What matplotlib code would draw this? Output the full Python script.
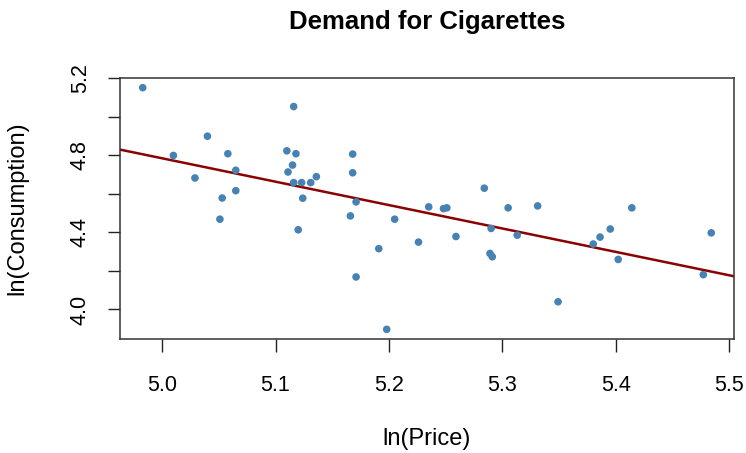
import numpy as np
import matplotlib
matplotlib.use("Agg")
import matplotlib.pyplot as plt

plt.rcParams['font.family'] = ['Liberation Sans', 'DejaVu Sans']

ln_price = [4.983, 5.010, 5.029, 5.040, 5.058, 5.065, 5.053, 5.065, 5.051, 5.116,
            5.110, 5.118, 5.115, 5.111, 5.116, 5.123, 5.131, 5.136, 5.124, 5.120,
            5.168, 5.168, 5.171, 5.166, 5.171, 5.191, 5.198, 5.205, 5.226, 5.235,
            5.248, 5.251, 5.259, 5.284, 5.290, 5.289, 5.291, 5.305, 5.313, 5.331,
            5.349, 5.380, 5.386, 5.395, 5.402, 5.414, 5.477, 5.484]
ln_cons = [5.152, 4.800, 4.683, 4.900, 4.809, 4.723, 4.579, 4.617, 4.469, 5.054,
           4.824, 4.809, 4.750, 4.714, 4.659, 4.659, 4.659, 4.690, 4.578, 4.414,
           4.807, 4.710, 4.559, 4.486, 4.169, 4.316, 3.897, 4.469, 4.350, 4.533,
           4.524, 4.528, 4.379, 4.630, 4.421, 4.291, 4.274, 4.528, 4.386, 4.538,
           4.040, 4.340, 4.376, 4.418, 4.260, 4.528, 4.181, 4.398]
x_ticks = [5.0, 5.1, 5.2, 5.3, 5.4, 5.5]
y_ticks = [4.0, 4.2, 4.4, 4.6, 4.8, 5.0, 5.2]
y_labels = ['4.0', '', '4.4', '', '4.8', '', '5.2']

x = np.array(ln_price)
y = np.array(ln_cons)

fig = plt.figure(figsize=(7.46, 4.53), dpi=100)
ax = fig.add_axes([120/746, 1-339/453, (734-120)/746, (339-78)/453])

ax.scatter(x, y, s=30, color='#4682B4', edgecolors='none', zorder=3)

xr = x.max() - x.min()
yr = y.max() - y.min()
xlim = (x.min() - 0.04*xr, x.max() + 0.04*xr)
ylim = (y.min() - 0.04*yr, y.max() + 0.04*yr)
ax.set_xlim(xlim)
ax.set_ylim(ylim)

b, a = np.polyfit(x, y, 1)
xx = np.array(xlim)
ax.plot(xx, a + b*xx, color='#8B0000', lw=1.8, zorder=2)

ax.set_xticks(x_ticks)
ax.set_xticklabels([f'{t:.1f}' for t in x_ticks])
ax.set_yticks(y_ticks)
ax.set_yticklabels(y_labels, rotation=90, va='center')
ax.tick_params(axis='both', direction='out', length=9, width=1, labelsize=15.5, color='#222222')
ax.tick_params(axis='x', pad=17)
ax.tick_params(axis='y', pad=12)
for s in ax.spines.values():
    s.set_linewidth(1.1)
    s.set_color('#333333')

ax.set_xlabel('ln(Price)', fontsize=17, labelpad=23)
ax.set_ylabel('ln(Consumption)', fontsize=17, labelpad=30)
ax.set_title('Demand for Cigarettes', fontsize=18.5, fontweight='bold', pad=35)

fig.savefig('out.png', dpi=100)
